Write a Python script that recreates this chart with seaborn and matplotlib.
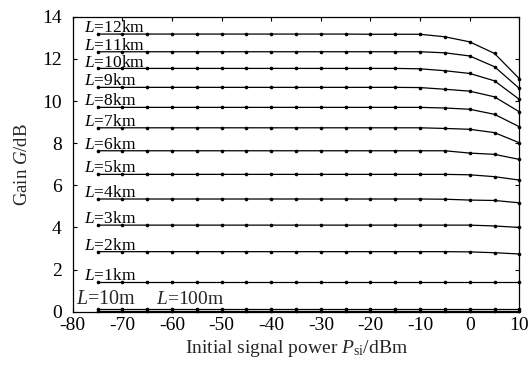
import numpy as np
import pandas as pd
import matplotlib
matplotlib.use("Agg")
import matplotlib.pyplot as plt
import seaborn as sns

# Initial signal power (dBm)
power = [-75, -70, -65, -60, -55, -50, -45, -40, -35, -30,
         -25, -20, -15, -10, -5, 0, 5, 10]

# Gain (dB) for each fibre length
gain_12km = [13.18, 13.18, 13.18, 13.18, 13.18, 13.18, 13.18, 13.18, 13.18, 13.18,
             13.18, 13.17, 13.17, 13.17, 13.05, 12.81, 12.26, 11.06]
gain_11km = [12.34, 12.34, 12.34, 12.34, 12.34, 12.34, 12.34, 12.34, 12.34, 12.34,
             12.34, 12.34, 12.34, 12.34, 12.29, 12.14, 11.63, 10.60]
gain_10km = [11.55, 11.55, 11.55, 11.55, 11.55, 11.55, 11.55, 11.55, 11.55, 11.55,
             11.55, 11.55, 11.55, 11.53, 11.44, 11.31, 10.96, 10.08]
gain_9km = [10.65, 10.65, 10.65, 10.65, 10.65, 10.65, 10.65, 10.65, 10.65, 10.65,
            10.65, 10.65, 10.65, 10.64, 10.56, 10.47, 10.20, 9.49]
gain_8km = [9.70, 9.70, 9.70, 9.70, 9.70, 9.70, 9.70, 9.70, 9.70, 9.70,
            9.70, 9.70, 9.70, 9.70, 9.67, 9.61, 9.37, 8.78]
gain_7km = [8.73, 8.73, 8.73, 8.73, 8.73, 8.73, 8.73, 8.73, 8.73, 8.73,
            8.73, 8.73, 8.73, 8.73, 8.70, 8.66, 8.50, 8.02]
gain_6km = [7.64, 7.64, 7.64, 7.64, 7.64, 7.64, 7.64, 7.64, 7.64, 7.64,
            7.64, 7.64, 7.64, 7.64, 7.64, 7.53, 7.47, 7.23]
gain_5km = [6.52, 6.52, 6.52, 6.52, 6.52, 6.52, 6.52, 6.52, 6.52, 6.52,
            6.52, 6.52, 6.52, 6.52, 6.52, 6.50, 6.41, 6.25]
gain_4km = [5.35, 5.35, 5.35, 5.35, 5.35, 5.35, 5.35, 5.35, 5.35, 5.35,
            5.35, 5.35, 5.35, 5.35, 5.34, 5.30, 5.28, 5.17]
gain_3km = [4.11, 4.11, 4.11, 4.11, 4.11, 4.11, 4.11, 4.11, 4.11, 4.11,
            4.11, 4.11, 4.11, 4.11, 4.11, 4.11, 4.07, 4.00]
gain_2km = [2.85, 2.85, 2.85, 2.85, 2.85, 2.85, 2.85, 2.85, 2.85, 2.85,
            2.85, 2.85, 2.85, 2.85, 2.85, 2.84, 2.80, 2.74]
gain_1km = [1.42, 1.42, 1.42, 1.42, 1.42, 1.42, 1.42, 1.42, 1.42, 1.42,
            1.42, 1.42, 1.42, 1.42, 1.42, 1.42, 1.42, 1.42]
gain_100m = [0.11, 0.11, 0.11, 0.11, 0.11, 0.11, 0.11, 0.11, 0.11, 0.11,
             0.11, 0.11, 0.11, 0.11, 0.11, 0.11, 0.11, 0.11]
gain_10m = [0.01, 0.01, 0.01, 0.01, 0.01, 0.01, 0.01, 0.01, 0.01, 0.01,
            0.01, 0.01, 0.01, 0.01, 0.01, 0.01, 0.01, 0.01]

km_names = ["12km", "11km", "10km", "9km", "8km", "7km", "6km",
            "5km", "4km", "3km", "2km", "1km"]
km_gains = [gain_12km, gain_11km, gain_10km, gain_9km, gain_8km, gain_7km,
            gain_6km, gain_5km, gain_4km, gain_3km, gain_2km, gain_1km]
short_names = ["10m", "100m"]
short_gains = [gain_10m, gain_100m]

names = km_names + short_names
gains = km_gains + short_gains

df = pd.DataFrame({
    "power": np.tile(power, len(names)),
    "gain": np.concatenate(gains),
    "length": np.repeat(names, len(power)),
})

sns.set_theme(style="ticks")
plt.rcParams["font.family"] = ["Liberation Serif", "DejaVu Serif"]
plt.rcParams["mathtext.fontset"] = "custom"
plt.rcParams["mathtext.rm"] = "Liberation Serif"
plt.rcParams["mathtext.it"] = "Liberation Serif:italic"
plt.rcParams["axes.unicode_minus"] = False

fig = plt.figure(figsize=(5.29, 3.65), dpi=100)
ax = fig.add_axes([0.1375, 0.146, 0.8442, 0.808])

sns.lineplot(data=df, x="power", y="gain", hue="length", hue_order=names,
             palette=["black"] * len(names), marker="o", markersize=2.6,
             markeredgewidth=0, linewidth=0.9, legend=False, ax=ax,
             estimator=None, sort=False)
for ln in ax.lines:
    ln.set_clip_on(False)

# Curve labels
for name, g in zip(km_names, km_gains):
    ax.text(-77.7, g[0] + 0.09, f"$L$={name}", fontsize=12.5,
            ha="left", va="baseline", color="black")
ax.text(-79.3, 0.37, "$L$=10m", fontsize=14.5, ha="left", va="baseline")
ax.text(-63.2, 0.37, "$L$=100m", fontsize=14, ha="left", va="baseline")

ax.set_xlim(-80, 10)
ax.set_ylim(0, 14)
ax.set_xticks(np.arange(-80, 11, 10))
ax.set_yticks(np.arange(0, 15, 2))
ax.tick_params(direction="in", length=3, width=0.8, labelsize=14,
               top=True, right=True, colors="black")
ax.tick_params(axis="y", pad=8)
ax.tick_params(axis="x", pad=4)
for s in ax.spines.values():
    s.set_linewidth(0.9)
    s.set_color("black")

ax.set_xlabel(r"Initial signal power $P_{\mathrm{si}}$/dBm", fontsize=14, labelpad=3)
ax.set_ylabel(r"Gain $G$/dB", fontsize=13.5, labelpad=8)

fig.savefig("out.png", dpi=100)
